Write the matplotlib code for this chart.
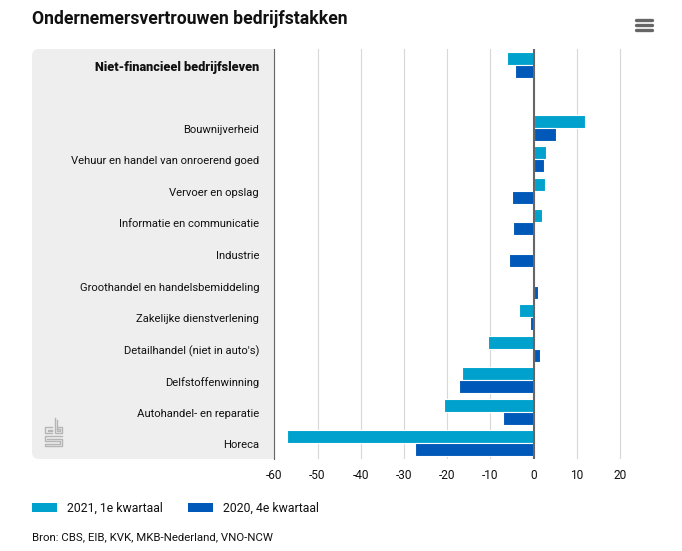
import matplotlib
matplotlib.use('Agg')
import matplotlib.pyplot as plt
from matplotlib.patches import FancyBboxPatch, Rectangle
from matplotlib.lines import Line2D
from matplotlib.transforms import Affine2D, ScaledTranslation

W, H = 682, 551

categories = [
    'Niet-financieel bedrijfsleven', '',
    'Bouwnijverheid',
    'Vehuur en handel van onroerend goed',
    'Vervoer en opslag',
    'Informatie en communicatie',
    'Industrie',
    'Groothandel en handelsbemiddeling',
    'Zakelijke dienstverlening',
    "Detailhandel (niet in auto's)",
    'Delfstoffenwinning',
    'Autohandel- en reparatie',
    'Horeca',
]
q1_2021 = [-6.1, None, 11.9, 3.0, 2.6, 1.95, 0, 0, -3.3, -10.5, -16.5, -20.7, -57.0]
q4_2020 = [-4.3, None, 5.2, 2.4, -5.0, -4.7, -5.65, 1.0, -0.8, 1.5, -17.2, -7.0, -27.4]
xticks = [-60, -50, -40, -30, -20, -10, 0, 10, 20]

LIGHT = '#00a1cd'
DARK = '#0058b8'
TXT = '#111111'

plt.rcParams['font.family'] = 'Roboto'

fig = plt.figure(figsize=(W / 100, H / 100), dpi=100)
# pixelcoordinaten, oorsprong linksboven
px = Affine2D().scale(1, -1).translate(0, H)

# grijs vlak achter de labels
fig.add_artist(FancyBboxPatch((32, 49), 300, 410, boxstyle='round,pad=0,rounding_size=7',
                              transform=px, fc='#eeeeee', ec='none', zorder=0))
fig.add_artist(Rectangle((274.5, 40), 90, 430, transform=px, fc='white', ec='none', zorder=0.5))

ax = fig.add_axes([274.3 / W, 1 - 459 / H, 94 * 4.32 / W, 410 / H])
ax.patch.set_alpha(0)
ax.set_zorder(2)

y = list(range(len(categories)))
h = 0.412
for i in y:
    if q1_2021[i]:
        ax.barh(i - h / 2, q1_2021[i], height=h, color=LIGHT, edgecolor='white', linewidth=0.8, zorder=3)
    if q4_2020[i]:
        ax.barh(i + h / 2, q4_2020[i], height=h, color=DARK, edgecolor='white', linewidth=0.8, zorder=3)

ax.set_xlim(-60, 34)
ax.set_ylim(12.5, -0.5)
ax.set_xticks(xticks)
ax.set_xticklabels([str(t) for t in xticks], fontsize=8.6, color=TXT)
ax.set_yticks(y)
ax.set_yticklabels(categories, fontsize=8.1, color=TXT)
ax.get_yticklabels()[0].set_fontweight('black')
ax.get_yticklabels()[0].set_fontsize(9.1)
ax.tick_params(axis='both', length=0)
ax.tick_params(axis='x', pad=7)
ax.tick_params(axis='y', pad=11)
# labels een pixel omlaag
for lab in ax.get_yticklabels():
    lab.set_transform(lab.get_transform() + ScaledTranslation(0, -1 / 100, fig.dpi_scale_trans))

ax.xaxis.grid(True, color='#d8d8d8', lw=0.8, zorder=1)
ax.set_axisbelow(True)
for s in ['top', 'right', 'bottom']:
    ax.spines[s].set_visible(False)
ax.spines['left'].set_color('#666666')
ax.spines['left'].set_linewidth(0.8)
ax.axvline(0, color='#666666', lw=1.5, zorder=4)

# titel en bron
fig.text(32 / W, 1 - 19 / H, 'Ondernemersvertrouwen bedrijfstakken', fontsize=12.7, fontweight='bold',
         color='#111111', va='center', ha='left')
fig.text(32 / W, 1 - 537.5 / H, 'Bron: CBS, EIB, KVK, MKB-Nederland, VNO-NCW', fontsize=8.2, color=TXT,
         va='center', ha='left')

# legenda
handles = [Rectangle((0, 0), 1, 1, fc=LIGHT), Rectangle((0, 0), 1, 1, fc=DARK)]
fig.legend(handles, ['2021, 1e kwartaal', '2020, 4e kwartaal'], ncols=2, frameon=False, fontsize=8.8,
           loc='center left', bbox_to_anchor=(32 / W, 1 - 508 / H), borderaxespad=0, borderpad=0,
           handlelength=2.05, handleheight=0.82, handletextpad=0.82, columnspacing=2.05, labelcolor=TXT)

# menu-icoon
for yy in [20, 25, 30]:
    fig.add_artist(Line2D([636, 652], [yy, yy], transform=px, color='#666666', lw=2.4, solid_capstyle='round'))

# cbs-logo
logo = [
    [(52, 426.5), (44.5, 426.5), (44.5, 433), (52, 433)],
    [(52, 429.5), (47.5, 429.5), (47.5, 431), (52, 431)],
    [(54.5, 418), (54.5, 433), (62, 433), (62, 426.5), (57, 426.5)],
    [(57, 420), (57, 431), (60, 431), (60, 428.5), (57, 428.5)],
    [(62, 435.5), (44.5, 435.5), (44.5, 441), (59.5, 441), (59.5, 443.5), (44.5, 443.5), (44.5, 446), (62, 446),
     (62, 438.5), (47, 438.5)],
]
for part in logo:
    xs, ys = zip(*part)
    fig.add_artist(Line2D(xs, ys, transform=px, color='#b5b5b5', lw=1, zorder=1))

fig.savefig('out.png', dpi=100)
